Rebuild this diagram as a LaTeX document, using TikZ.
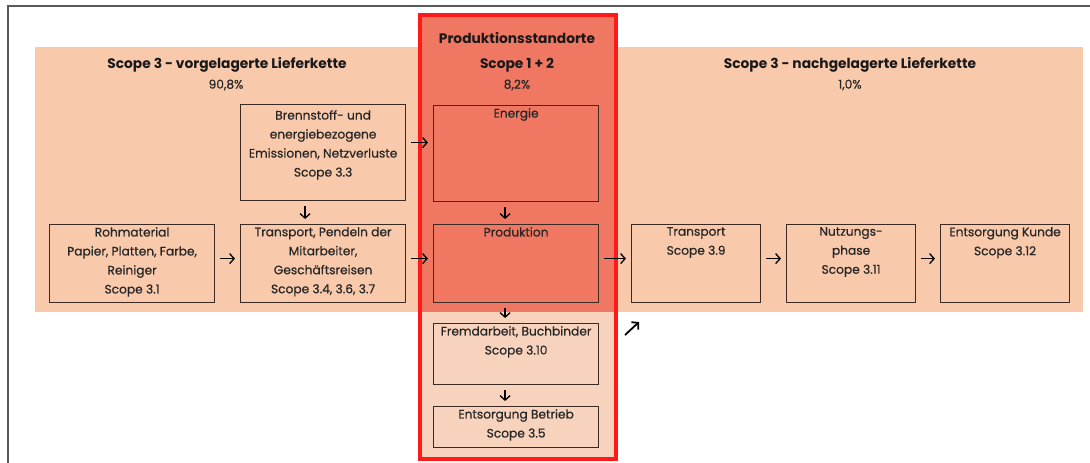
\documentclass[tikz,border=0pt]{standalone}
\usepackage{fontspec}
\setmainfont{Poppins}
\newfontfamily\boxfont{Poppins}[FakeBold=0.5]
\usetikzlibrary{arrows.meta,positioning}
\definecolor{peach}{HTML}{F8C9AB}
\definecolor{salmon}{HTML}{F07762}
\definecolor{lightpeach}{HTML}{F7D2BC}
\definecolor{boxline}{HTML}{3A2A22}
\definecolor{frameline}{HTML}{5A5A5A}
\definecolor{redline}{HTML}{FF1A1A}
\begin{document}
\begin{tikzpicture}[x=1pt,y=-1pt,
  box/.style={draw=boxline,line width=1.2pt,minimum width=165pt,inner sep=0pt,anchor=north west},
  txt/.style={font=\boxfont\fontsize{12.2}{19}\selectfont,align=center,text=black!85,inner sep=2pt},
  head/.style={font=\fontsize{13.8}{15}\selectfont\bfseries,text=black!90},
  arr/.style={->,line width=1.3pt,shorten <=5pt,shorten >=5pt},
  >={Straight Barb[length=4.5pt,width=10pt]}]
\useasboundingbox (0,0) rectangle (1090,463);
% frame and backgrounds
\draw[frameline,line width=1.5pt] (1090,6) -- (8,6) -- (8,463);
\fill[peach] (35,47) rectangle (1083,312);
\fill[salmon] (420,15) rectangle (616,312);
\fill[lightpeach] (420,312) rectangle (616,459);
\draw[redline,line width=3.5pt] (420,15) rectangle (616,459);

% headings
\node[head] (up-h) at (227,65) {Scope 3 - vorgelagerte Lieferkette};
\node[txt] (up-p) at (226,85) {90,8\%};
\node[head] (site-h) at (517,38) {Produktionsstandorte};
\node[head] (own-h) at (517,65) {Scope 1 + 2};
\node[txt] (own-p) at (517,85) {8,2\%};
\node[head] (down-h) at (850,65) {Scope 3 - nachgelagerte Lieferkette};
\node[txt] (down-p) at (850,85) {1,0\%};

% upstream
\node[box,minimum height=96pt] (brenn) at (240,104) {};
\node[txt,below=4pt] (brenn-t) at (brenn.north) {Brennstoff- und\\energiebezogene\\Emissionen, Netzverluste\\Scope 3.3};
\node[box,minimum height=78pt] (roh) at (49,224) {};
\node[txt,below=1pt] (roh-t) at (roh.north) {Rohmaterial\\Papier, Platten, Farbe,\\Reiniger\\Scope 3.1};
\node[box,minimum height=78pt] (trans) at (240,224) {};
\node[txt,below=1pt] (trans-t) at (trans.north) {Transport, Pendeln der\\Mitarbeiter,\\Geschäftsreisen\\Scope 3.4, 3.6, 3.7};

% sites
\node[box,minimum height=96pt] (energie) at (433,105) {};
\node[txt,below=1pt] (energie-t) at (energie.north) {Energie};
\node[box,minimum height=78pt] (prod) at (433,224) {};
\node[txt,below=1pt] (prod-t) at (prod.north) {Produktion};
\node[box,minimum height=61pt] (fremd) at (433,323) {};
\node[txt,below=1pt] (fremd-t) at (fremd.north) {Fremdarbeit, Buchbinder\\Scope 3.10};
\node[box,minimum height=41pt] (entsb) at (433,406) {};
\node[txt,below=1pt] (entsb-t) at (entsb.north) {Entsorgung Betrieb\\Scope 3.5};

% downstream
\node[box,minimum width=129pt,minimum height=78pt] (t39) at (631,224) {};
\node[txt,below=1pt] (t39-t) at (t39.north) {Transport\\Scope 3.9};
\node[box,minimum width=129pt,minimum height=78pt] (nutz) at (786,224) {};
\node[txt,below=1pt] (nutz-t) at (nutz.north) {Nutzungs-\\phase\\Scope 3.11};
\node[box,minimum width=129pt,minimum height=78pt] (entsk) at (940,224) {};
\node[txt,below=1pt] (entsk-t) at (entsk.north) {Entsorgung Kunde\\Scope 3.12};

% arrows
\draw[arr] ([yshift=10pt]brenn.east) -- ([yshift=10pt]brenn.east -| energie.west);
\draw[arr] ([xshift=-18pt]brenn.south) -- ([xshift=-18pt]brenn.south |- trans.north);
\draw[arr] ([xshift=-11pt]energie.south) -- ([xshift=-11pt]energie.south |- prod.north);
\draw[arr] ([xshift=-11pt]prod.south) -- ([xshift=-11pt]prod.south |- fremd.north);
\draw[arr] ([xshift=-11pt]fremd.south) -- ([xshift=-11pt]fremd.south |- entsb.north);
\draw[arr] ([yshift=5pt]roh.east) -- ([yshift=5pt]trans.west);
\draw[arr] ([yshift=5pt]trans.east) -- ([yshift=5pt]prod.west);
\draw[arr] ([yshift=5pt]prod.east) -- ([yshift=5pt]t39.west);
\draw[arr] ([yshift=5pt]t39.east) -- ([yshift=5pt]nutz.west);
\draw[arr] ([yshift=5pt]nutz.east) -- ([yshift=5pt]entsk.west);
\coordinate (tail) at (625,335);
\coordinate (tip) at (639,322);
\draw[->,line width=1.8pt] (tail) -- (tip);
\end{tikzpicture}
\end{document}
